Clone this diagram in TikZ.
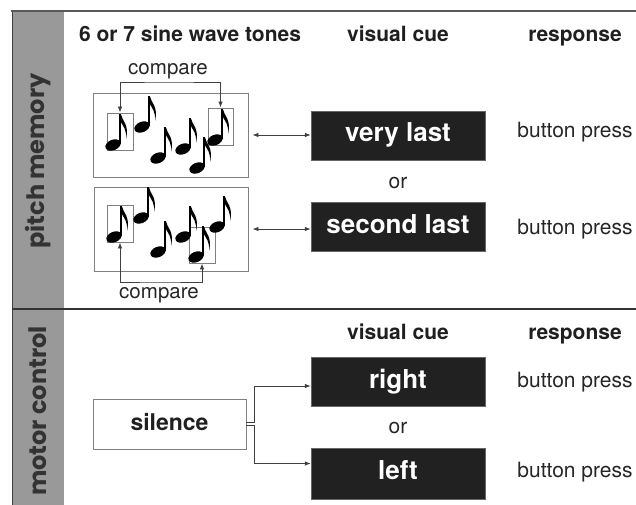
\documentclass[tikz,border=0pt]{standalone}
\usepackage{fontspec}
\setmainfont{TeX Gyre Heros}
\newfontfamily\bandfont{Poppins}
\usetikzlibrary{arrows.meta}
\definecolor{bandgray}{gray}{0.6}
\definecolor{cuefill}{gray}{0.13}
\definecolor{linegray}{gray}{0.5}

\begin{document}
\begin{tikzpicture}[
    x=1pt, y=-1pt, >={Latex[length=6pt,width=4.5pt]},
    header/.style={%
        anchor=base, text=black!88,
        font=\fontsize{21}{24}\selectfont\bfseries},
    plain/.style={%
        anchor=base, text=black!85,
        font=\fontsize{21}{24}\selectfont},
    sidelabel/.style={%
        rotate=90, text=black!80,
        font=\bandfont\fontsize{24}{28}\selectfont\bfseries},
    cuebox/.style={%
        fill=cuefill, draw=black!60, text=white,
        minimum width=174pt, minimum height=49pt,
        text height=19pt, text depth=7pt,
        font=\fontsize{26}{30}\selectfont\bfseries},
    tonebox/.style={%
        draw=linegray, line width=0.9pt,
        minimum width=155pt, minimum height=84pt},
    pickbox/.style={%
        draw=linegray, line width=0.9pt,
        minimum width=26pt, minimum height=37pt},
    silencebox/.style={%
        draw=linegray, line width=0.9pt,
        minimum width=153pt, minimum height=50pt,
        text height=17pt, text depth=5pt, text=black!88,
        font=\fontsize{23}{26}\selectfont\bfseries},
    link/.style={%
        draw=black!75, line width=0.8pt},
    note/.pic={
        \fill[rotate=22] (0,0) ellipse [x radius=8, y radius=5.2];
        \fill (5.8,-1) rectangle (7.8,-31);
        \fill (7.8,-31) .. controls (9,-24) and (16.5,-21) .. (13,-6)
              .. controls (14,-15) and (10,-19) .. (7.8,-23) -- cycle;
    },
]
    \useasboundingbox (0,0) rectangle (636,505);
    \clip (0,0) rectangle (636,505);

    % Frame and side band
    \fill[bandgray] (12,11) rectangle (64,520);
    \draw[black!75, line width=1pt] (12,520) -- (12,11);
    \draw[black!65, line width=2pt] (11,11) -- (650,11);
    \draw[black!80, line width=1.5pt] (12,309) -- (650,309);
    \node[sidelabel] (pitch) at (38,161) {pitch memory};
    \node[sidelabel] (motor) at (38,411) {motor control};

    % Headers
    \node[header] (tones) at (190,42) {6 or 7 sine wave tones};
    \node[header] (cueA) at (398,42) {visual cue};
    \node[header] (respA) at (575,42) {response};
    \node[header] (cueB) at (398,339) {visual cue};
    \node[header] (respB) at (575,339) {response};

    % Pitch memory: tone sequences
    \node[tonebox] (toneA) at (170.5,135) {};
    \node[tonebox, minimum width=154pt] (toneB) at (171,229) {};
    \node[pickbox] (pickA1) at (120,131.5) {};
    \node[pickbox, minimum width=25pt] (pickA2) at (220.5,126.5) {};
    \node[pickbox] (pickB1) at (120,223.5) {};
    \node[pickbox, minimum height=36pt] (pickB2) at (202,245) {};
    \foreach \x/\y in {113/145, 142/127, 158/158, 183/149, 197/168, 215/140,
                       114/237, 141/218, 158/252, 183/237, 196/257, 217/227}
        \pic at (\x,\y) {note};

    \node[plain, font=\fontsize{20.5}{24}\selectfont] (cmpA) at (168,75) {compare};
    \node[plain, font=\fontsize{20.5}{24}\selectfont] (cmpB) at (159,298) {compare};
    \draw[link,<->] (pickA1.north) |- ([yshift=-7pt]cmpA.base) -| (pickA2.north);
    \draw[link,<->] (pickB1.south) |- ([yshift=16pt]cmpB.base) -| (pickB2.south);

    % Pitch memory: cues and responses
    \node[cuebox] (verylast) at (398,135.5) {very last};
    \node[cuebox] (secondlast) at (398,227) {second last};
    \node[plain] (orA) at (398,188) {or};
    \node[plain] (pressA) at (575,138) {button press};
    \node[plain] (pressB) at (575,234) {button press};
    \draw[link,<->] ([xshift=4pt]toneA.east) -- (toneA.east -| verylast.west);
    \draw[link,<->] ([xshift=4pt]toneB.east) -- (toneB.east -| secondlast.west);

    % Motor control
    \node[silencebox] (silence) at (169.5,424) {silence};
    \node[cuebox] (right) at (398,382) {right};
    \node[cuebox, minimum height=51pt] (left) at (398,473.5) {left};
    \node[plain] (orB) at (398,433) {or};
    \node[plain] (pressC) at (575,387) {button press};
    \node[plain] (pressD) at (575,477) {button press};
    \draw[link,->] ([yshift=1.5pt]silence.east) -- ++(8,0) |- ([yshift=-4pt]right.west);
    \draw[link,->] ([yshift=-1.5pt]silence.east) -- ++(8,0) |- ([yshift=10pt]left.west);
\end{tikzpicture}
\end{document}
